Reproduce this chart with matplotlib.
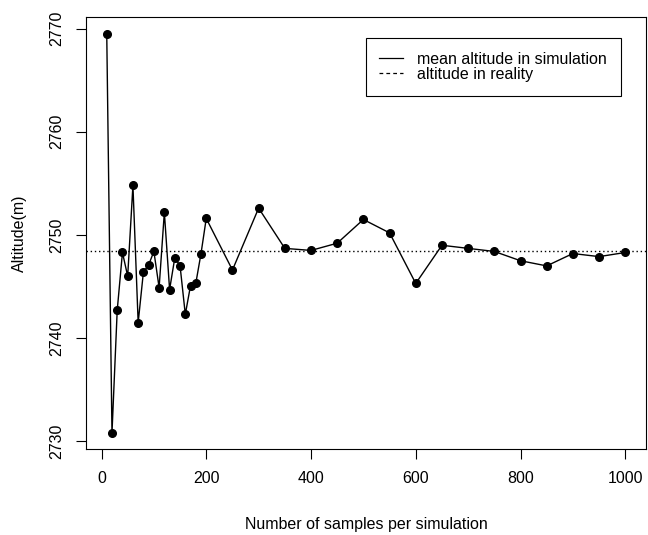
import matplotlib
matplotlib.use("Agg")
import matplotlib.pyplot as plt
from matplotlib.lines import Line2D

# samples per simulation and the resulting mean altitude
n_samples = [10, 20, 30, 40, 50, 60, 70, 80, 90, 100,
             110, 120, 130, 140, 150, 160, 170, 180, 190, 200,
             250, 300, 350, 400, 450, 500, 550, 600, 650, 700,
             750, 800, 850, 900, 950, 1000]
mean_altitude = [2769.5, 2730.8, 2742.7, 2748.3, 2746.0, 2754.8, 2741.5, 2746.4, 2747.1, 2748.4,
                 2744.9, 2752.2, 2744.7, 2747.8, 2747.0, 2742.3, 2745.1, 2745.3, 2748.2, 2751.6,
                 2746.6, 2752.6, 2748.7, 2748.5, 2749.2, 2751.5, 2750.2, 2745.3, 2749.0, 2748.7,
                 2748.4, 2747.5, 2747.0, 2748.2, 2747.9, 2748.3]
real_altitude = 2748.4

x_ticks = [0, 200, 400, 600, 800, 1000]
y_ticks = [2730, 2740, 2750, 2760, 2770]

plt.rcParams["font.family"] = ["Liberation Sans", "DejaVu Sans"]
FS = 11.5

fig = plt.figure(figsize=(6.48, 5.35), dpi=100)
W, H = 648, 535
left, right, top, bottom = 86, 646, 17.3, 449
ax = fig.add_axes([left / W, 1 - bottom / H, (right - left) / W, (bottom - top) / H])

ax.plot(n_samples, mean_altitude, color="black", lw=1.0, marker="o", ms=5.5)
ax.axhline(real_altitude, color="black", lw=1.0, linestyle=(0, (1, 2)))

ax.set_xlim(-29.6, 1039.6)
ax.set_ylim(2729.25, 2771.1)
ax.set_xticks(x_ticks)
ax.set_yticks(y_ticks)
ax.tick_params(direction="out", length=7.5, width=0.8, labelsize=FS, pad=8)
for lab in ax.get_yticklabels():
    lab.set_rotation(90)
    lab.set_va("center")
for s in ax.spines.values():
    s.set_linewidth(0.8)

ax.set_xlabel("Number of samples per simulation", fontsize=FS, labelpad=23)
ax.set_ylabel("Altitude(m)", fontsize=FS, labelpad=16)

handles = [Line2D([], [], color="black", lw=0.9),
           Line2D([], [], color="black", lw=0.9, linestyle=(0, (3, 2.5)))]
leg = ax.legend(handles, ["mean altitude in simulation", "altitude in reality"],
                loc="upper right", bbox_to_anchor=(0.955, 0.951), fontsize=FS,
                fancybox=False, edgecolor="black", framealpha=1,
                handlelength=1.5, handletextpad=0.9, borderpad=0.85,
                labelspacing=0.0, borderaxespad=0)
leg.get_frame().set_linewidth(0.8)

fig.savefig("out.png", dpi=100)
